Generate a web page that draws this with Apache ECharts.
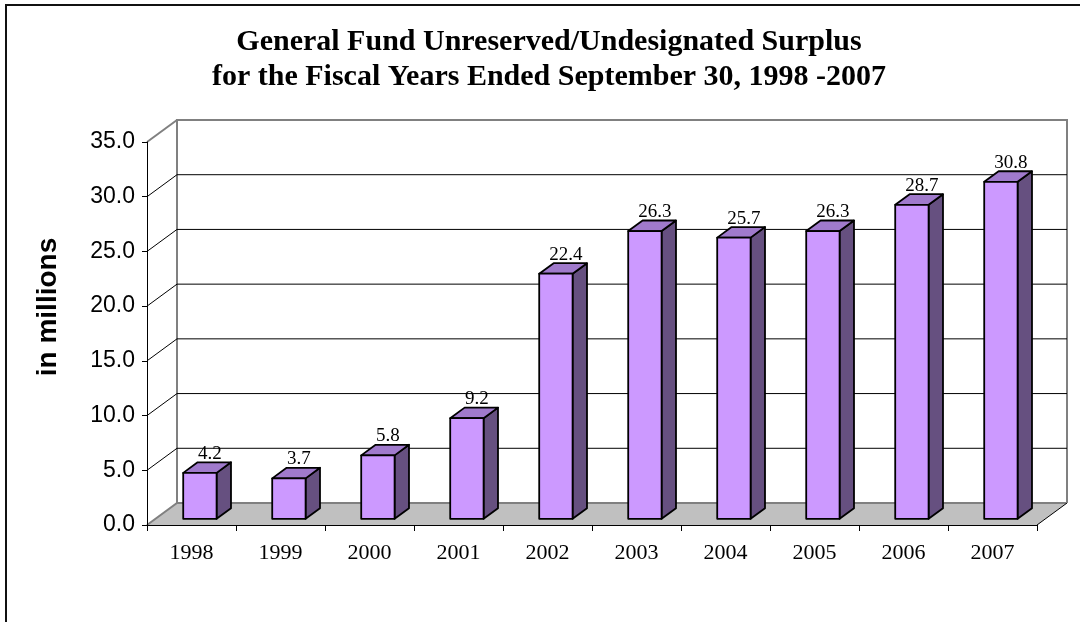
<!DOCTYPE html>
<html>
<head>
<meta charset="utf-8">
<script src="https://cdn.jsdelivr.net/npm/echarts@6/dist/echarts.min.js"></script>
<style>
html,body{margin:0;padding:0;background:#fff;}
#chart{width:1080px;height:622px;}
</style>
</head>
<body>
<div id="chart"></div>
<script>
// ---- data ----
const years = ['1998','1999','2000','2001','2002','2003','2004','2005','2006','2007'];
const surplus = [4.2, 3.7, 5.8, 9.2, 22.4, 26.3, 25.7, 26.3, 28.7, 30.8];
const yTicks = [0, 5, 10, 15, 20, 25, 30, 35];
const titleLines = ['General Fund Unreserved/Undesignated Surplus', 'for the Fiscal Years Ended September 30, 1998 -2007'];
const yName = 'in millions';

// ---- style constants ----
const DX = 30, DY = -22;          // depth of the 3D box
const F1 = 0.28, F2 = 0.76;        // bar depth range (fraction)
const BAR_FRAC = 0.375;
const FRONT = '#CC99FF', TOP = '#A07ACC', SIDE = '#665080';
const WALL_EDGE = '#808080';

const chart = echarts.init(document.getElementById('chart'));

function wallsRender(params, api) {
  const cs = params.coordSys;
  const l = cs.x, r = cs.x + cs.width;
  const yb = api.coord([years[0], yTicks[0]])[1];
  const yt = api.coord([years[0], yTicks[yTicks.length - 1]])[1];
  return {
    type: 'group',
    children: [
      { type: 'polygon', shape: { points: [[l + DX, yt + DY], [r + DX, yt + DY], [r + DX, yb + DY], [l + DX, yb + DY]] },
        style: { fill: '#fff', stroke: null }, z2: 0 },
      { type: 'polygon', shape: { points: [[l, yb], [r, yb], [r + DX, yb + DY], [l + DX, yb + DY]] },
        style: { fill: '#C0C0C0', stroke: null }, z2: 1 },
      { type: 'polyline', shape: { points: [[l, yb], [l + DX, yb + DY], [r + DX, yb + DY]] },
        style: { stroke: WALL_EDGE, lineWidth: 2, fill: null }, z2: 5 },
      { type: 'line', shape: { x1: r, y1: yb, x2: r + DX, y2: yb + DY },
        style: { stroke: '#000', lineWidth: 1 }, z2: 5 },
      { type: 'polyline', shape: { points: [[l + DX, yb + DY], [l + DX, yt + DY], [r + DX, yt + DY], [r + DX, yb + DY]] },
        style: { stroke: WALL_EDGE, lineWidth: 2, fill: null }, z2: 6 },
      { type: 'line', shape: { x1: l, y1: yt, x2: l + DX, y2: yt + DY },
        style: { stroke: WALL_EDGE, lineWidth: 2 }, z2: 6 }
    ]
  };
}

function gridRender(params, api) {
  const cs = params.coordSys;
  const l = cs.x, r = cs.x + cs.width;
  const v = api.value(1);
  if (v === yTicks[0] || v === yTicks[yTicks.length - 1]) return null;
  const y = api.coord([years[0], v])[1];
  return {
    type: 'group',
    children: [
      { type: 'line', shape: { x1: l, y1: y, x2: l + DX, y2: y + DY }, style: { stroke: '#000', lineWidth: 1 } },
      { type: 'line', shape: { x1: l + DX, y1: y + DY, x2: r + DX, y2: y + DY }, style: { stroke: '#000', lineWidth: 1 } }
    ]
  };
}

function barRender(params, api) {
  const cat = api.value(0);
  const val = api.value(1);
  const pTop = api.coord([cat, val]);
  const pBot = api.coord([cat, 0]);
  const band = api.size([1, 0])[0];
  const w = band * BAR_FRAC;
  const ox = DX * F1, oy = DY * F1;
  const sdx = DX * (F2 - F1), sdy = DY * (F2 - F1);
  const x0 = pTop[0] - w / 2 + ox;
  const yt = pTop[1] + oy, yb = pBot[1] + oy;
  const st = { stroke: '#000', lineWidth: 1.8, lineJoin: 'round' };
  return {
    type: 'group',
    children: [
      { type: 'polygon', shape: { points: [[x0 + w, yt], [x0 + w + sdx, yt + sdy], [x0 + w + sdx, yb + sdy], [x0 + w, yb]] },
        style: Object.assign({ fill: SIDE }, st) },
      { type: 'polygon', shape: { points: [[x0, yt], [x0 + w, yt], [x0 + w + sdx, yt + sdy], [x0 + sdx, yt + sdy]] },
        style: Object.assign({ fill: TOP }, st) },
      { type: 'rect', shape: { x: x0, y: yt, width: w, height: yb - yt },
        style: Object.assign({ fill: FRONT }, st) },
      { type: 'text', x: x0 + w / 2 + 10, y: yt - 19,
        style: { text: val.toFixed(1), fill: '#000', font: '19px "Liberation Serif"', align: 'center', verticalAlign: 'middle' } }
    ]
  };
}

const option = {
  animation: false,
  backgroundColor: '#fff',
  title: {
    text: titleLines.join('\n'),
    left: 544,
    textAlign: 'center',
    top: 20,
    textStyle: { fontFamily: 'Liberation Serif', fontWeight: 'bold', fontSize: 30, lineHeight: 35, color: '#000' }
  },
  grid: { left: 147, right: 43, top: 142, bottom: 97 },
  xAxis: {
    type: 'category',
    data: years,
    z: 3,
    axisLine: { lineStyle: { color: '#000', width: 1 } },
    axisTick: { show: true, length: 6, lineStyle: { color: '#000' } },
    axisLabel: { fontFamily: 'Liberation Serif', fontSize: 22, color: '#000', margin: 17 }
  },
  yAxis: {
    type: 'value',
    min: 0, max: 35, interval: 5,
    z: 3,
    axisLine: { show: true, lineStyle: { color: '#000', width: 1 } },
    axisTick: { show: true, length: 5, lineStyle: { color: '#000' } },
    splitLine: { show: false },
    axisLabel: { formatter: v => v.toFixed(1), fontFamily: 'Liberation Sans', fontSize: 23, color: '#000', margin: 12 }
  },
  graphic: [
    { type: 'rect', shape: { x: 6, y: 5, width: 1200, height: 800 },
      style: { fill: null, stroke: '#111', lineWidth: 2 }, z: 100, silent: true },
    { type: 'text', x: 48, y: 307, rotation: Math.PI / 2,
      style: { text: yName, font: 'bold 28px "Liberation Sans"', fill: '#000', align: 'center', verticalAlign: 'middle' } }
  ],
  series: [
    { type: 'custom', name: 'walls', z: 1, clip: false, silent: true,
      data: [[years[0], yTicks[0]]], renderItem: wallsRender },
    { type: 'custom', name: 'gridlines', z: 2, clip: false, silent: true,
      data: yTicks.map(v => [years[0], v]), renderItem: gridRender },
    { type: 'custom', name: 'Surplus', z: 4, clip: false,
      data: years.map((y, i) => [y, surplus[i]]), renderItem: barRender }
  ]
};
chart.setOption(option);
</script>
</body>
</html>
